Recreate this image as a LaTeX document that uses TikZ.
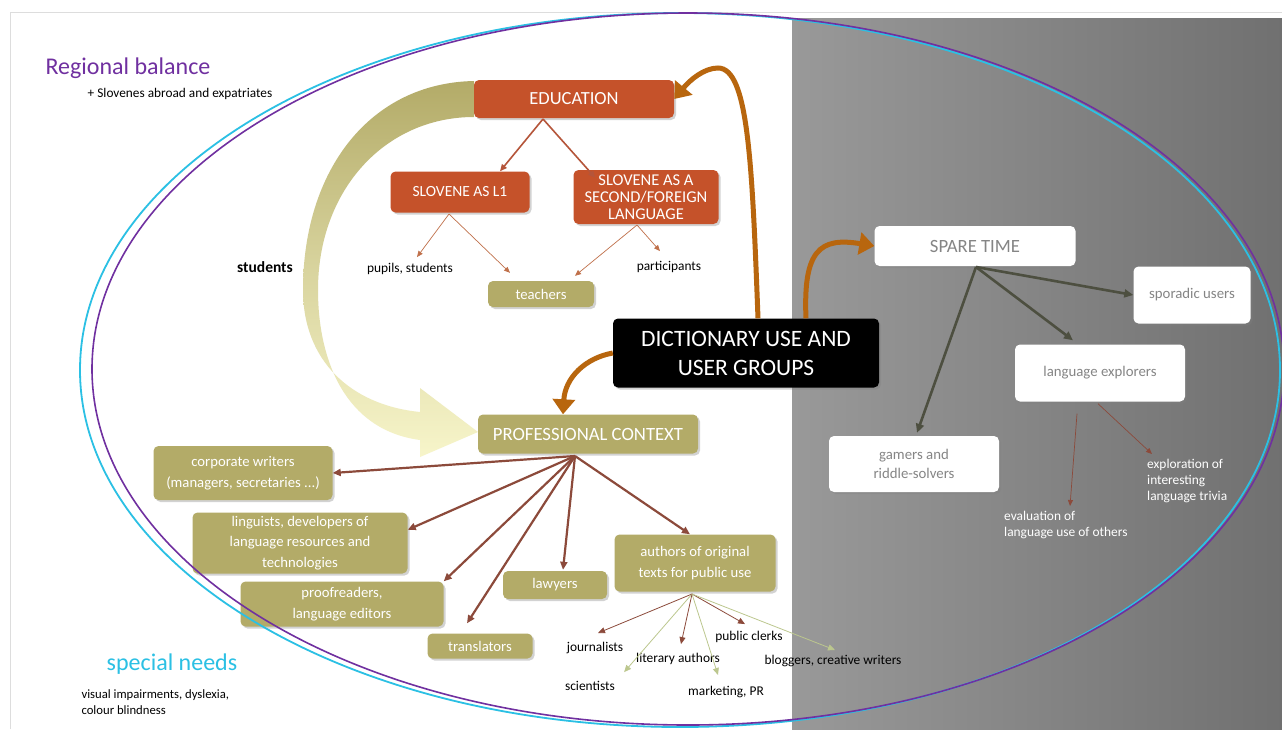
\documentclass[tikz,border=0pt]{standalone}
\usepackage{fontspec}
\setmainfont{Carlito}
\usetikzlibrary{arrows.meta,shadows,calc}
\definecolor{EduRed}{HTML}{C5522A}
\definecolor{Olive}{HTML}{B3AB68}
\definecolor{PaleOlive}{HTML}{F7F5CA}
\definecolor{TextGray}{HTML}{858585}
\definecolor{ProfBrown}{HTML}{8C4A3B}
\definecolor{EduBrown}{HTML}{B5553A}
\definecolor{ThinRed}{HTML}{C0704A}
\definecolor{Amber}{HTML}{B8660E}
\definecolor{DarkOlive}{HTML}{4D4F40}
\definecolor{PaleGreen}{HTML}{BCC78E}
\definecolor{RegPurple}{HTML}{7030A0}
\definecolor{NeedCyan}{HTML}{2BC0E4}
\definecolor{FrameGray}{HTML}{DDDDDD}

\begin{document}
\begin{tikzpicture}[x=1pt, y=-1pt,
	box/.style={rectangle, rounded corners=5pt, align=center, inner sep=2pt,
		drop shadow={opacity=0.35, shadow xshift=2pt, shadow yshift=-2pt}},
	edubox/.style={box, fill=EduRed, text=white, font=\fontsize{15.5}{17}\selectfont},
	olivebox/.style={box, fill=Olive, text=white, font=\fontsize{14.7}{20.5}\selectfont},
	whitebox/.style={box, fill=white, text=TextGray, font=\fontsize{14.8}{19}\selectfont},
	label/.style={font=\fontsize{13.4}{16}\selectfont, inner sep=1pt},
	eduarrow/.style={EduBrown, line width=1.6pt, -{Triangle[length=7pt,width=6pt]}},
	thinarrow/.style={ThinRed, line width=0.7pt, -{Triangle[length=6pt,width=5pt]}},
	profarrow/.style={ProfBrown, line width=2.2pt, -{Triangle[length=8pt,width=7pt]}},
	sparearrow/.style={DarkOlive, line width=2.6pt, -{Triangle[length=9pt,width=8pt]}},
	authbrown/.style={ProfBrown, line width=0.8pt, -{Triangle[length=7pt,width=6pt]}},
	authgreen/.style={PaleGreen, line width=0.8pt, -{Triangle[length=7pt,width=6pt]}},
	bigarrow/.style={Amber, line width=5pt, -{Triangle[length=15pt,width=22pt]}}]
	\useasboundingbox (0,0) rectangle (1282,729);
	\fill[white] (0,0) rectangle (1282,729);
	% backdrop
	\shade[left color=black!40, right color=black!56] (792,18) rectangle (1282,729);
	\draw[FrameGray, line width=1pt] (10,729) -- (10,12) -- (1282,12);

	% students band
	\shade[top color=Olive, bottom color=PaleOlive, middle color=Olive!45!PaleOlive]
		(474,81) .. controls (370,83) and (303,170) .. (303,290)
		.. controls (303,360) and (350,405) .. (420,412) -- (420,388) -- (478,432)
		-- (420,457) -- (420,440) .. controls (345,430) and (318,360) .. (318,290)
		.. controls (318,190) and (385,117) .. (474,117) -- cycle;

	% texts
	\node[font=\fontsize{24}{28}\selectfont, text=RegPurple] (region) at (128,68) {Regional balance};
	\node[font=\fontsize{13.3}{15}\selectfont] (abroad) at (180,94) {+ Slovenes abroad and expatriates};
	\node[font=\bfseries\fontsize{15.5}{18}\selectfont] (stud) at (265,267) {students};
	\node[font=\fontsize{24}{28}\selectfont, text=NeedCyan] (special) at (172,664) {special needs};
	\node[font=\fontsize{12.7}{16}\selectfont, align=left, anchor=west] (impair) at (78,702)
		{visual impairments, dyslexia,\\colour blindness};

	% education
	\node[edubox, font=\fontsize{18.5}{21}\selectfont, minimum width=200pt, minimum height=38pt] (edu) at (574,99) {EDUCATION};
	\node[edubox, minimum width=139pt, minimum height=41pt] (slone) at (460,192) {SLOVENE AS L1};
	\node[edubox, font=\fontsize{16.5}{17}\selectfont, minimum width=145pt, minimum height=54pt] (sltwo) at (646,197) {SLOVENE AS A\\SECOND/FOREIGN\\LANGUAGE};
	\node[label] (pupils) at (410,269) {pupils, students};
	\node[label] (partic) at (669,267) {participants};
	\node[olivebox, minimum width=106pt, minimum height=26pt] (teach) at (541,294) {teachers};
	\coordinate (efan) at (543,119);
	\coordinate (lfan) at (449,214);
	\coordinate (sfan) at (637,225);
	\draw[eduarrow] (efan) -- ($(slone.north)+(40,0)$);
	\draw[eduarrow] (efan) -- ($(sltwo.north west)+(22,8)$);
	\draw[thinarrow] (lfan) -- ($(pupils.north)+(7,-5)$);
	\draw[thinarrow] (lfan) -- ($(teach.north)+(-31,-8)$);
	\draw[thinarrow] (sfan) -- ($(teach.north)+(34,-5)$);
	\draw[thinarrow] (sfan) -- ($(partic.north)+(-9,-9)$);

	% centre
	\node[box, fill=black, text=white, font=\fontsize{23.5}{29}\selectfont, minimum width=266pt, minimum height=69pt] (dict) at (746,353) {DICTIONARY USE AND\\USER GROUPS};

	% spare time
	\node[whitebox, font=\fontsize{18.7}{21}\selectfont, minimum width=201pt, minimum height=40pt] (spare) at (975,246) {SPARE TIME};
	\node[whitebox, minimum width=117pt, minimum height=57pt] (sporadic) at (1192,295) {sporadic users};
	\node[whitebox, minimum width=170pt, minimum height=57pt] (explor) at (1100,373) {language explorers};
	\node[whitebox, minimum width=170pt, minimum height=56pt] (gamers) at (914,464) {gamers and\\riddle-solvers};
	\node[label, text=white, align=left, anchor=west, font=\fontsize{13.4}{16}\selectfont] (trivia) at (1146,481) {exploration of\\interesting\\language trivia};
	\node[label, text=white, align=left, anchor=west, font=\fontsize{13.4}{16}\selectfont] (evalu) at (1003,525) {evaluation of\\language use of others};
	\coordinate (tfan) at (976,267);
	\draw[sparearrow] (tfan) -- (sporadic.west);
	\draw[sparearrow] (tfan) -- ($(explor.north)+(-27,-4)$);
	\draw[sparearrow] (tfan) -- ($(gamers.north)+(3,-3)$);
	\draw[thinarrow, ProfBrown] ($(explor.south)+(-23,12)$) -- ($(evalu.north west)+(67,-4)$);
	\draw[thinarrow, ProfBrown] ($(explor.south)+(-2,2)$) -- ($(trivia.north west)+(6,-4)$);

	% professional context
	\node[olivebox, font=\fontsize{18.7}{21}\selectfont, minimum width=220pt, minimum height=39pt] (prof) at (588,434) {PROFESSIONAL CONTEXT};
	\node[olivebox, minimum width=179pt, minimum height=54pt] (corp) at (243,473) {corporate writers\\(managers, secretaries ...)};
	\node[olivebox, minimum width=215pt, minimum height=61pt] (ling) at (300,543) {linguists, developers of\\language resources and\\technologies};
	\node[olivebox, minimum width=203pt, minimum height=45pt] (proof) at (342,604) {proofreaders,\\language editors};
	\node[olivebox, minimum width=104pt, minimum height=28pt] (lawy) at (555,585) {lawyers};
	\node[olivebox, minimum width=105pt, minimum height=25pt] (transl) at (480,646) {translators};
	\node[olivebox, minimum width=161pt, minimum height=57pt] (auth) at (695,563) {authors of original\\texts for public use};
	\coordinate (pfan) at (575,456);
	\draw[profarrow] (pfan) -- (corp.east);
	\draw[profarrow] (pfan) -- (ling.7);
	\draw[profarrow] (pfan) -- (proof.north east);
	\draw[profarrow] (pfan) -- ($(transl.north)+(-13,-10)$);
	\draw[profarrow] (pfan) -- ($(lawy.north)+(8,-1)$);
	\draw[profarrow] (pfan) -- ($(auth.north)+(-5,0)$);

	% authors fan
	\node[label] (journ) at (595,648) {journalists};
	\node[label] (liter) at (678,659) {literary authors};
	\node[label] (clerks) at (749,637) {public clerks};
	\node[label] (blogg) at (833,661) {bloggers, creative writers};
	\node[label] (scient) at (590,686) {scientists};
	\node[label] (market) at (726,692) {marketing, PR};
	\coordinate (afan) at (692,594);
	\draw[authbrown] (afan) -- ($(journ.north)+(3,-8)$);
	\draw[authgreen] (afan) -- ($(scient.north east)+(8,-8)$);
	\draw[authbrown] (afan) -- ($(liter.north)+(3,-8)$);
	\draw[authgreen] (afan) -- ($(market.north)+(-8,-10)$);
	\draw[authbrown] (afan) -- ($(clerks.north)+(-4,-6)$);
	\draw[authgreen] (afan) -- ($(blogg.north)+(2,-4)$);

	% main connectors
	\draw[bigarrow] ($(dict.north)+(12,0)$) .. controls (752,160) and (748,68) .. (718,68)
		.. controls (704,68) and (690,80) .. (edu.east);
	\draw[bigarrow] ($(dict.north)+(60,0)$) .. controls (803,250) and (820,237) .. (spare.west);
	\draw[bigarrow] (dict.west) .. controls (585,358) and (565,378) .. ($(prof.north)+(-25,0)$);

	% outer rings
	\draw[NeedCyan, line width=1.8pt] (680,370) ellipse [x radius=600, y radius=357];
	\draw[RegPurple, line width=1.6pt] (688,369) ellipse [x radius=596, y radius=356];
\end{tikzpicture}
\end{document}
